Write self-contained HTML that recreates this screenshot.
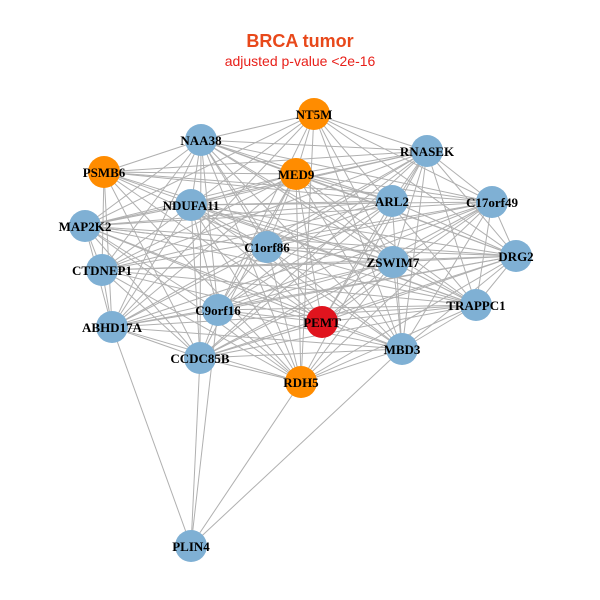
<!DOCTYPE html>
<html><head><meta charset="utf-8"><style>body{margin:0;background:#fff}svg{display:block}</style></head>
<body>
<svg id="s" width="600" height="600" xmlns="http://www.w3.org/2000/svg">
<rect width="600" height="600" fill="#fff"/>
<text x="300" y="47" text-anchor="middle" font-family="Liberation Sans,sans-serif" font-weight="bold" font-size="18" fill="#e8481a">BRCA tumor</text>
<text x="300" y="66" text-anchor="middle" font-family="Liberation Sans,sans-serif" font-size="14" fill="#e8201a">adjusted p-value &lt;2e-16</text>
<g id="e" stroke="#b0b0b0" stroke-width="1"></g>
<g id="n"></g>
<g font-family="Liberation Serif,serif" font-weight="bold" font-size="13" text-anchor="middle" fill="#000">
<text x="314" y="119">NT5M</text>
<text x="201" y="145">NAA38</text>
<text x="427" y="156">RNASEK</text>
<text x="104" y="177">PSMB6</text>
<text x="296" y="179">MED9</text>
<text x="191" y="210">NDUFA11</text>
<text x="392" y="206">ARL2</text>
<text x="492" y="207">C17orf49</text>
<text x="85" y="231">MAP2K2</text>
<text x="267" y="252">C1orf86</text>
<text x="393" y="267">ZSWIM7</text>
<text x="516" y="261">DRG2</text>
<text x="102" y="275">CTDNEP1</text>
<text x="476" y="310">TRAPPC1</text>
<text x="218" y="315">C9orf16</text>
<text x="322" y="327">PEMT</text>
<text x="112" y="332">ABHD17A</text>
<text x="402" y="354">MBD3</text>
<text x="200" y="363">CCDC85B</text>
<text x="301" y="387">RDH5</text>
<text x="191" y="551">PLIN4</text>
</g>
</svg>
<script>
var N=[[314,114,"o"],[201,140,"b"],[427,151,"b"],[104,172,"o"],[296,174,"o"],[191,205,"b"],[392,201,"b"],[492,202,"b"],[85,226,"b"],[267,247,"b"],[393,262,"b"],[516,256,"b"],[102,270,"b"],[476,305,"b"],[218,310,"b"],[322,322,"r"],[112,327,"b"],[402,349,"b"],[200,358,"b"],[301,382,"o"],[191,546,"b"]];
var col={o:"#ff8c00",b:"#7fb0d4",r:"#e0141e"};
var ns="http://www.w3.org/2000/svg",e=document.getElementById("e"),g=document.getElementById("n");
function L(a,b){var l=document.createElementNS(ns,"line");l.setAttribute("x1",N[a][0]);l.setAttribute("y1",N[a][1]);l.setAttribute("x2",N[b][0]);l.setAttribute("y2",N[b][1]);e.appendChild(l);}
for(var i=0;i<20;i++)for(var j=i+1;j<20;j++){if((i*7+j*3)%9==0)continue;L(i,j);}
[16,18,14,19,17].forEach(function(k){L(20,k)});
N.forEach(function(p){var c=document.createElementNS(ns,"circle");c.setAttribute("cx",p[0]);c.setAttribute("cy",p[1]);c.setAttribute("r",16);c.setAttribute("fill",col[p[2]]);g.appendChild(c);});
</script>
</body></html>
